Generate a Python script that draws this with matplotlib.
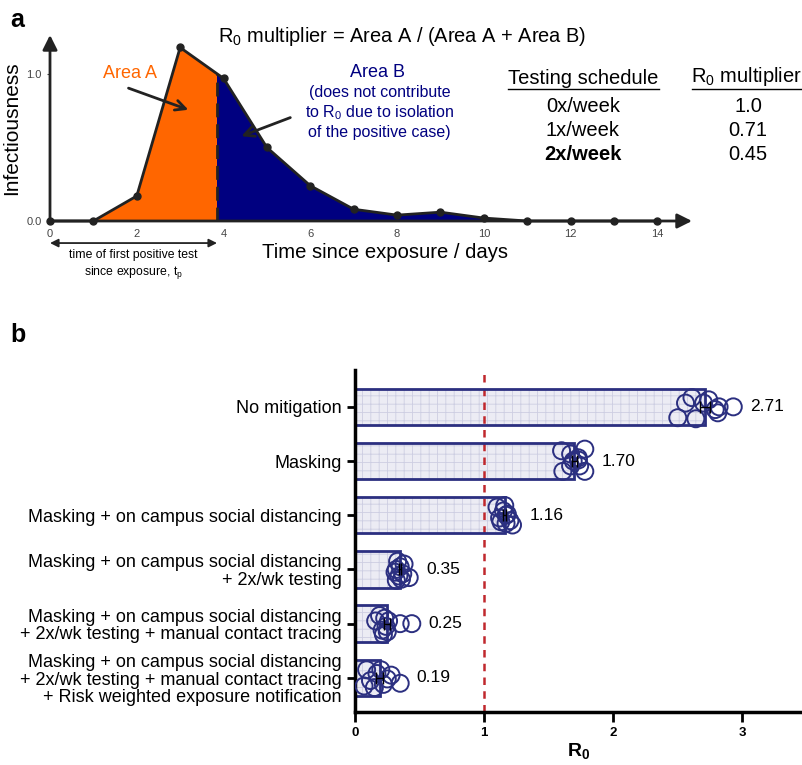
import numpy as np
import matplotlib
matplotlib.use("Agg")
import matplotlib.pyplot as plt
from matplotlib.patches import Rectangle

plt.rcParams['font.family'] = ['Liberation Sans', 'DejaVu Sans']
plt.rcParams['mathtext.fontset'] = 'custom'
plt.rcParams['mathtext.rm'] = 'Liberation Sans'
plt.rcParams['mathtext.it'] = 'Liberation Sans:italic'
plt.rcParams['mathtext.bf'] = 'Liberation Sans:bold'
plt.rcParams['hatch.linewidth'] = 0.6

# panel a data
days = [0, 1, 2, 3, 4, 5, 6, 7, 8, 9, 10, 11, 12, 13, 14]
infectiousness = [0.0, 0.0, 0.17, 1.18, 0.97, 0.50, 0.24, 0.08, 0.04, 0.06, 0.02, 0.0, 0.0, 0.0, 0.0]
t_pos = 3.85
schedules = ["0x/week", "1x/week", "2x/week"]
multipliers = ["1.0", "0.71", "0.45"]

# panel b data
scenarios = [
    "No mitigation",
    "Masking",
    "Masking + on campus social distancing",
    "Masking + on campus social distancing\n+ 2x/wk testing",
    "Masking + on campus social distancing\n+ 2x/wk testing + manual contact tracing",
    "Masking + on campus social distancing\n+ 2x/wk testing + manual contact tracing\n+ Risk weighted exposure notification",
]
r0_means = [2.71, 1.70, 1.16, 0.35, 0.25, 0.19]
r0_runs = [
    [2.50, 2.56, 2.61, 2.64, 2.70, 2.74, 2.81, 2.82, 2.93, 2.79],
    [1.60, 1.67, 1.78, 1.61, 1.78, 1.69, 1.73, 1.67, 1.74, 1.73],
    [1.10, 1.12, 1.15, 1.17, 1.18, 1.20, 1.22, 1.13, 1.16, 1.17],
    [0.31, 0.33, 0.34, 0.35, 0.36, 0.37, 0.32, 0.38, 0.42, 0.32],
    [0.16, 0.19, 0.21, 0.22, 0.23, 0.24, 0.25, 0.26, 0.35, 0.44],
    [0.07, 0.09, 0.12, 0.15, 0.17, 0.20, 0.22, 0.25, 0.28, 0.35],
]
run_jitter = [
    [0.20, -0.07, -0.17, 0.22, -0.07, -0.13, 0.11, 0.0, 0.0, 0.05],
    [-0.19, -0.13, -0.22, 0.19, 0.19, 0.0, -0.06, 0.09, 0.09, -0.02],
    [-0.15, 0.05, -0.08, 0.15, -0.02, 0.10, 0.18, 0.12, -0.18, 0.0],
    [0.05, -0.15, 0.12, -0.05, 0.18, 0.08, 0.0, -0.1, 0.15, 0.2],
    [-0.05, -0.15, 0.12, 0.2, -0.1, 0.05, 0.15, -0.05, 0.0, 0.0],
    [0.15, -0.15, 0.05, 0.18, -0.08, -0.15, 0.12, 0.02, -0.05, 0.10],
]

orange = '#FF6600'
navy = '#000080'
bar_navy = '#2B2F80'

fig = plt.figure(figsize=(8.03, 7.65), dpi=100)

# ---------- panel a ----------
ax = fig.add_axes([50 / 803, 1 - 221 / 765, 642 / 803, 186 / 765])
ax.set_xlim(0, 14.8)
ax.set_ylim(0, 1.265)
for s in ax.spines.values():
    s.set_visible(False)

fa = ax.fill_between(days, infectiousness, color=orange, lw=0)
fa.set_clip_path(Rectangle((0, 0), t_pos, 2, transform=ax.transData))
fb = ax.fill_between(days, infectiousness, color=navy, lw=0)
fb.set_clip_path(Rectangle((t_pos, 0), 20, 2, transform=ax.transData))
ax.plot([t_pos, t_pos], [0, np.interp(t_pos, days, infectiousness)], color='#222222',
        lw=2, ls=(0, (5, 2.5)))
ax.plot(days, infectiousness, color='#222222', lw=2, marker='o', ms=5, clip_on=False, zorder=5)

ax.annotate('', xy=(14.8, 0), xytext=(0, 0), annotation_clip=False,
            arrowprops=dict(arrowstyle='-|>', lw=2, color='#222222', mutation_scale=22, shrinkA=0, shrinkB=0))
ax.annotate('', xy=(0, 1.265), xytext=(0, 0), annotation_clip=False,
            arrowprops=dict(arrowstyle='-|>', lw=2, color='#222222', mutation_scale=22, shrinkA=0, shrinkB=0))

ax.set_xticks([0, 2, 4, 6, 8, 10, 12, 14])
ax.set_yticks([0, 1])
ax.set_yticklabels(['0.0', '1.0'])
ax.tick_params(axis='both', labelsize=8, labelcolor='#444444', length=2, color='#444444', pad=4)
ax.tick_params(axis='x', length=0, pad=6)
ax.set_ylabel('Infectiousness', fontsize=15, labelpad=4)

ax.text(1.85, 1.0, 'Area A', color=orange, fontsize=13, ha='center', va='center')
ax.annotate('', xy=(3.25, 0.75), xytext=(1.75, 0.91),
            arrowprops=dict(arrowstyle='->', lw=2, color='#222222', mutation_scale=18))
ax.text(7.55, 1.01, 'Area B', color=navy, fontsize=13, ha='center', va='center')
ax.text(7.6, 0.74, '(does not contribute\nto R$_0$ due to isolation\nof the positive case)',
        color=navy, fontsize=11.5, ha='center', va='center', linespacing=1.25)
ax.annotate('', xy=(4.35, 0.57), xytext=(5.6, 0.71),
            arrowprops=dict(arrowstyle='->', lw=2, color='#222222', mutation_scale=18))

ax.annotate('', xy=(0, -0.15), xytext=(t_pos, -0.15), annotation_clip=False,
            arrowprops=dict(arrowstyle='<|-|>', lw=1.3, color='#222222', mutation_scale=12, shrinkA=0, shrinkB=0))
ax.text(t_pos / 2, -0.30, 'time of first positive test\nsince exposure, t$_\\mathrm{p}$',
        fontsize=8.8, ha='center', va='center', linespacing=1.3, clip_on=False)

fig.text(385 / 803, 1 - 253 / 765, 'Time since exposure / days', fontsize=14.6, ha='center', va='center')
fig.text(402 / 803, 1 - 37 / 765, 'R$_0$ multiplier = Area A / (Area A + Area B)', fontsize=14.4,
         ha='center', va='center')

# testing schedule table
fig.text(583 / 803, 1 - 78 / 765, 'Testing schedule', fontsize=14.5, ha='center', va='center')
fig.text(746 / 803, 1 - 76 / 765, 'R$_0$ multiplier', fontsize=14.5, ha='center', va='center')
fig.add_artist(plt.Line2D([508 / 803, 659 / 803], [1 - 89 / 765] * 2, color='black', lw=1))
fig.add_artist(plt.Line2D([692 / 803, 801 / 803], [1 - 89 / 765] * 2, color='black', lw=1))
for i, (sch, mul) in enumerate(zip(schedules, multipliers)):
    yy = 1 - (107 + 24 * i) / 765
    fig.text(583 / 803, yy, sch, fontsize=14.5, ha='center', va='center',
             fontweight='bold' if i == 2 else 'normal')
    fig.text(748 / 803, yy, mul, fontsize=14.5, ha='center', va='center')

fig.text(10 / 803, 1 - 20 / 765, 'a', fontsize=18, fontweight='bold', va='center')
fig.text(10 / 803, 1 - 335 / 765, 'b', fontsize=18, fontweight='bold', va='center')

# ---------- panel b ----------
bx = fig.add_axes([355 / 803, 1 - 712 / 765, 448 / 803, 342 / 765])
ypos = np.arange(len(scenarios))
bx.barh(ypos, r0_means, height=0.67, color='#ECECF4', edgecolor='#CDCEE2', hatch='++', lw=0, zorder=1)
bx.barh(ypos, r0_means, height=0.67, facecolor='none', edgecolor=bar_navy, lw=2, zorder=2)
bx.axvline(1, color='#C0282D', lw=1.8, ls=(0, (3, 2.5)), zorder=1.5)

for i, (runs, jit) in enumerate(zip(r0_runs, run_jitter)):
    bx.scatter(runs, i + np.array(jit), s=150, facecolors='none', edgecolors=bar_navy,
               linewidths=1.4, zorder=3)
    sem = np.std(runs) / np.sqrt(len(runs))
    bx.errorbar(r0_means[i], i, xerr=sem, fmt='none', ecolor='black', capsize=4, lw=1, zorder=4)
    bx.annotate(f'{r0_means[i]:.2f}', xy=(max(runs), i), xytext=(12, 0), textcoords='offset points',
                fontsize=12.5, va='center', ha='left')

bx.set_xlim(0, 3.47)
bx.set_ylim(5.63, -0.68)
bx.set_yticks(ypos)
bx.set_yticklabels(scenarios, fontsize=13, ha='right', multialignment='right', linespacing=1.05)
bx.set_xticks([0, 1, 2, 3])
bx.tick_params(axis='x', labelsize=9.5, width=2, length=7)
bx.tick_params(axis='y', width=2, length=6)
for lab in bx.get_xticklabels():
    lab.set_fontweight('bold')
for side in ['top', 'right']:
    bx.spines[side].set_visible(False)
bx.spines['left'].set_linewidth(2.5)
bx.spines['bottom'].set_linewidth(2.5)
bx.set_xlabel('R$_\\mathbf{0}$', fontsize=14, fontweight='bold', labelpad=2)

fig.savefig('out.png', dpi=100)
